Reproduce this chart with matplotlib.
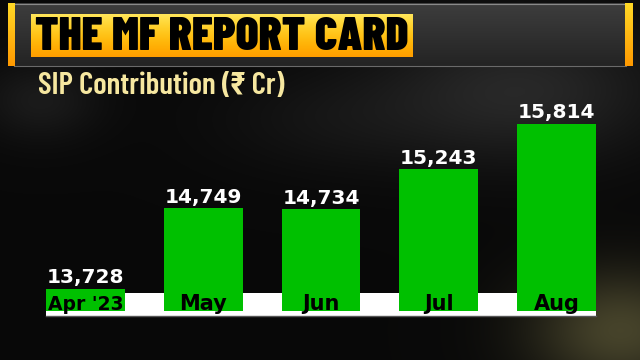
import numpy as np
import matplotlib
matplotlib.use("Agg")
import matplotlib.pyplot as plt
from matplotlib.patches import Rectangle

months = ["Apr '23", "May", "Jun", "Jul", "Aug"]
sip = [13728, 14749, 14734, 15243, 15814]
value_labels = ["13,728", "14,749", "14,734", "15,243", "15,814"]
title = "THE MF REPORT CARD"
subtitle = "SIP Contribution (\u20b9 Cr)"

COND = ["Barlow Condensed", "Roboto Condensed", "DejaVu Sans"]
GEO = ["DejaVu Sans"]

W, H = 640, 360
fig = plt.figure(figsize=(6.4, 3.6), dpi=100)

# ---- background (pixel coordinates) ----
bg = fig.add_axes([0, 0, 1, 1])
bg.set_xlim(0, W)
bg.set_ylim(H, 0)
bg.axis("off")
yy, xx = np.mgrid[0:H, 0:W]
img = np.zeros((H, W, 3)) + 0.035
def blob(cx, cy, sx, sy, col, amp):
    g = np.exp(-(((xx - cx) / sx) ** 2 + ((yy - cy) / sy) ** 2))
    for k in range(3):
        img[..., k] += amp * g * col[k]
blob(520, 90, 140, 70, (1, 1, 1), 0.12)
blob(620, 330, 90, 60, (1, 0.95, 0.55), 0.24)
blob(40, 100, 60, 40, (1, 1, 1), 0.07)
blob(330, 120, 120, 50, (1, 1, 1), 0.04)
img = np.clip(img, 0, 1)
bg.imshow(img, extent=(0, W, H, 0), aspect="auto", zorder=0)

def vgrad(cols):
    c = np.stack(cols, axis=-1)
    return np.repeat(c[:, None, :], 2, axis=1)

# banner
g = np.linspace(0.24, 0.14, 64)
bg.imshow(vgrad([g, g, g]), extent=(14, 626, 66, 3), aspect="auto", zorder=1)
bg.plot([14, 626], [3.5, 3.5], color="#8a8a8a", lw=0.8, zorder=2)
bg.plot([14, 626], [65.5, 65.5], color="#6a6a6a", lw=0.8, zorder=2)
t = np.linspace(0, 1, 64)
side = vgrad([np.ones(64), 0.85 - 0.25 * t, 0.15 * (1 - t)])
bg.imshow(side, extent=(8, 15, 66, 3), aspect="auto", zorder=2)
bg.imshow(side, extent=(625, 633, 66, 3), aspect="auto", zorder=2)
# yellow title box
t2 = np.linspace(0, 1, 44)
ybox = vgrad([np.ones(44), 0.90 - 0.28 * t2, 0.35 * (1 - t2) ** 2])
bg.imshow(ybox, extent=(31, 413, 57, 14), aspect="auto", zorder=3)
bg.text(222, 37, title, color="black", fontsize=34, fontweight=900,
        family=COND, va="center", ha="center", zorder=4)
bg.text(38, 86, subtitle, color="#f6e7a0", fontsize=22.5, fontweight=600,
        family=COND, va="center", ha="left", zorder=4)

# ---- chart ----
y0, y1 = 13450, 16118
ax = fig.add_axes([26.6 / W, (H - 311) / H, (615.4 - 26.6) / W, 211 / H])
ax.set_xlim(-0.5, 4.5)
ax.set_ylim(y0, y1)
ax.axis("off")
ax.patch.set_alpha(0)
x = np.arange(len(months))
bw = 0.67
ax.add_patch(Rectangle((x[0] - bw / 2, y0 - 5 / 0.0791), x[-1] - x[0] + bw, 23 / 0.0791,
                       facecolor="white", edgecolor="none", clip_on=False, zorder=1))
ax.plot([x[0] - bw / 2, x[-1] + bw / 2], [y0 - 5 / 0.0791] * 2, color="#555555", lw=1,
        clip_on=False, zorder=1)
ax.bar(x, [v - y0 for v in sip], bottom=y0, width=bw, color="#00c000", zorder=2)
for xi, v, lab, m in zip(x, sip, value_labels, months):
    ax.annotate(lab, (xi, v), xytext=(0, 4), textcoords="offset points", ha="center",
                va="baseline", color="white", fontsize=14.5, fontweight="bold",
                family=GEO, zorder=3)
    ax.annotate(m, (xi, y0), xytext=(0, 1), textcoords="offset points", ha="center",
                va="baseline", color="black", fontsize=13.5 if m.startswith("Apr") else 15,
                fontweight="bold", family=GEO, zorder=3)

fig.savefig("out.png", dpi=100, facecolor="black")
